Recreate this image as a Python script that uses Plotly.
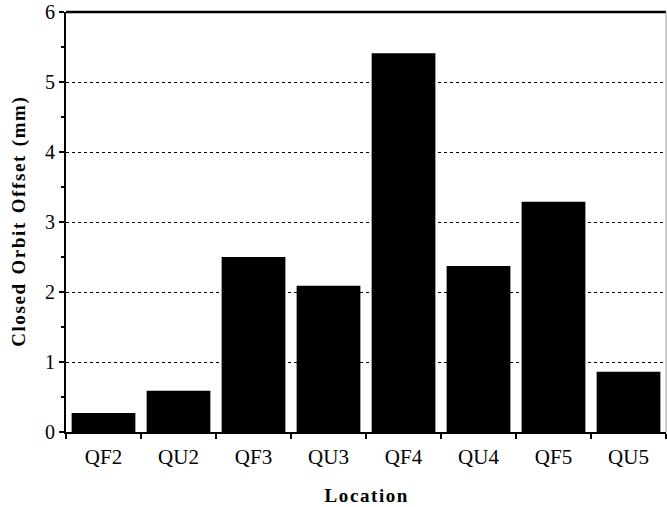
import plotly.graph_objects as go

categories = ["QF2", "QU2", "QF3", "QU3", "QF4", "QU4", "QF5", "QU5"]
offsets = [0.27, 0.59, 2.50, 2.09, 5.41, 2.37, 3.29, 0.86]
y_ticks = [0, 1, 2, 3, 4, 5, 6]

HS = "\u200a"


def spaced(s):
    return HS.join(s).replace(" ", " " + HS)


fig = go.Figure(go.Bar(x=categories, y=offsets, marker=dict(color="black", line=dict(width=0))))

font = "Liberation Serif, Times New Roman, serif"
fig.update_layout(
    width=667, height=507,
    margin=dict(l=66, r=1, t=12, b=75),
    plot_bgcolor="white", paper_bgcolor="white",
    bargap=0.15,
    showlegend=False,
    font=dict(family=font, color="black", size=21),
)
fig.update_xaxes(
    automargin=False,
    showline=True, linecolor="black", linewidth=2,
    ticks="outside", ticklen=5, tickwidth=2, tickcolor="black",
    tickson="boundaries", showgrid=False,
    tickfont=dict(size=21), ticklabelstandoff=5,
    title=dict(text="<b>" + spaced("Location") + "</b>", font=dict(size=19), standoff=20),
)
fig.update_yaxes(
    automargin=False,
    range=[0, 6], tickvals=y_ticks,
    showline=True, linecolor="black", linewidth=2,
    ticks="outside", ticklen=5, tickwidth=2, tickcolor="black",
    minor=dict(dtick=0.5, ticks="outside", ticklen=3, tickcolor="black", tickwidth=2, showgrid=False),
    showgrid=True, gridcolor="black", gridwidth=1, griddash="dot",
    zeroline=False, tickfont=dict(size=20),
    title=dict(text="<b>" + spaced("Closed Orbit Offset (mm)") + "</b>", font=dict(size=19), standoff=14),
)
fig.add_shape(type="line", xref="paper", yref="paper", x0=0, x1=1, y0=1, y1=1,
              line=dict(color="black", width=2.5))
fig.add_shape(type="line", xref="paper", yref="paper", x0=1, x1=1, y0=0, y1=1,
              line=dict(color="#999999", width=1))
fig.write_html("out.html", config={"displayModeBar": False},
               post_script="document.body.style.margin='0';document.body.style.overflow='hidden';")
